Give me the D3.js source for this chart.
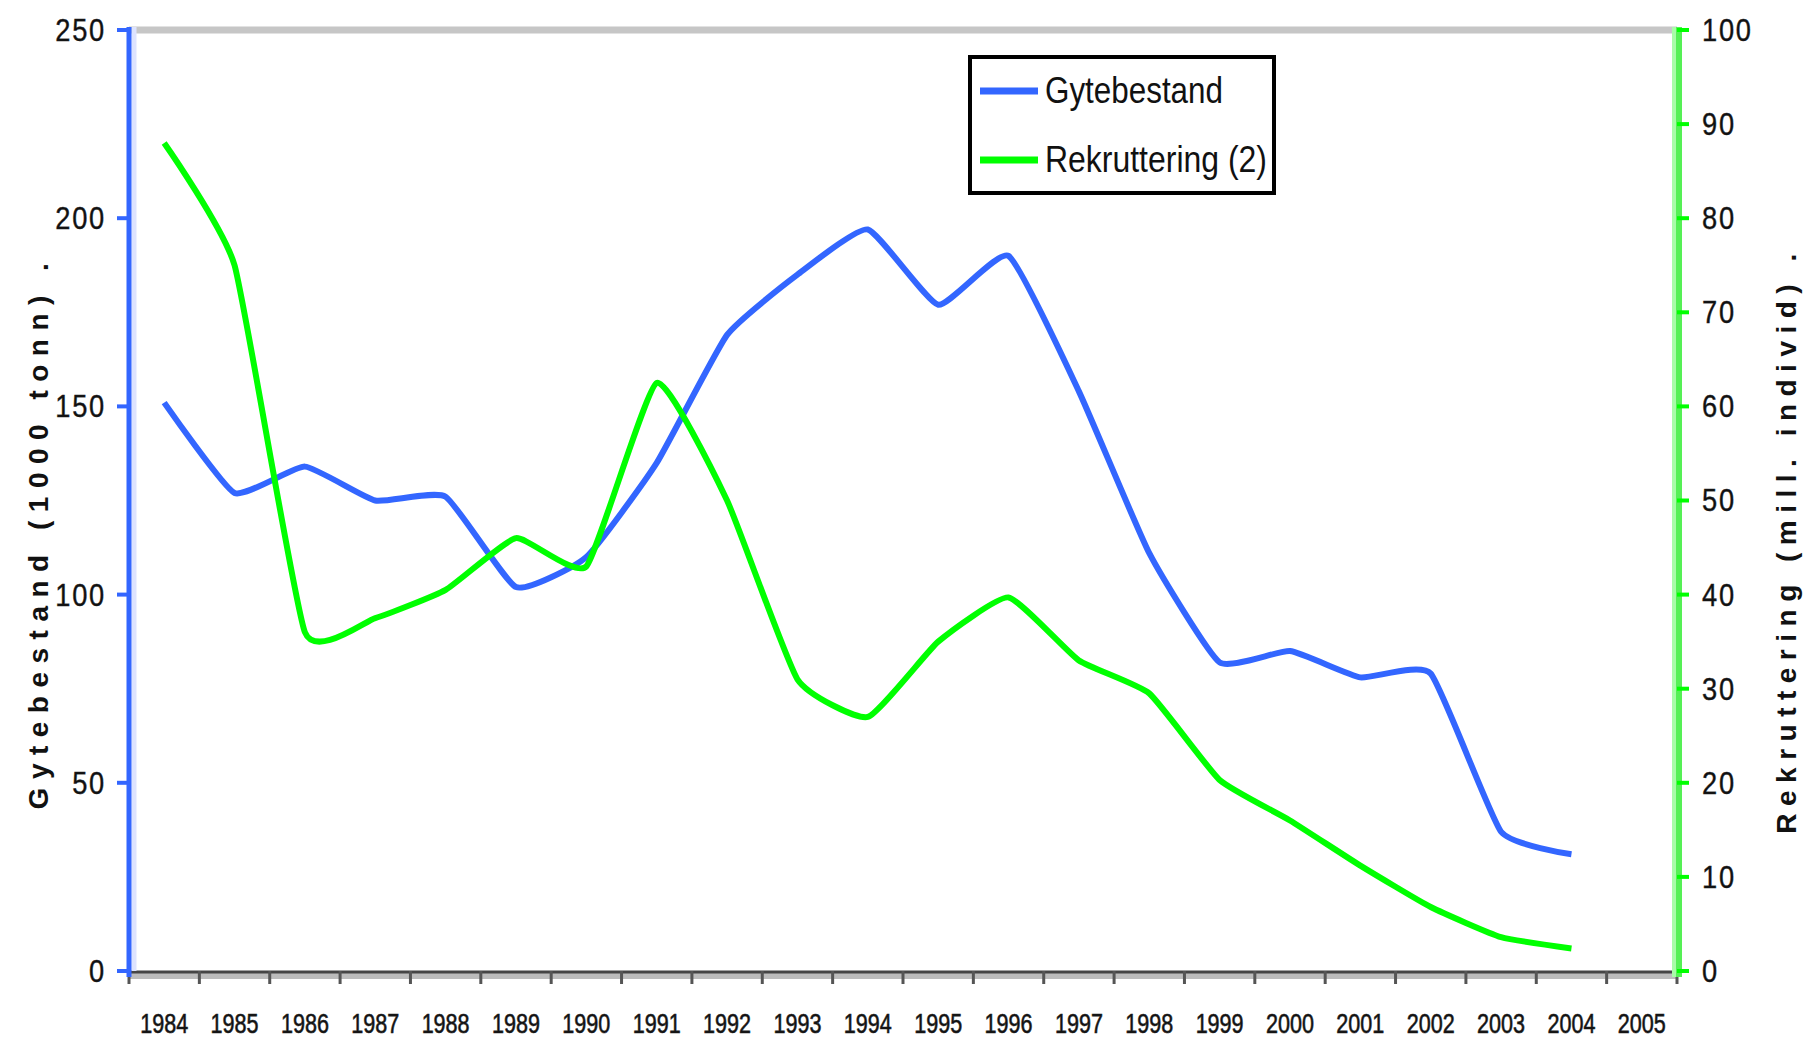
<!DOCTYPE html>
<html>
<head>
<meta charset="utf-8">
<script src="https://cdn.jsdelivr.net/npm/d3@7"></script>
<style>
  body { margin: 0; background: #fff; }
  svg { display: block; }
  text { font-family: "Liberation Sans Narrow", "Liberation Sans", Arial, sans-serif; fill: #111; }
</style>
</head>
<body>
<svg id="chart" width="1806" height="1038"></svg>
<script>
// values
const years = d3.range(1984, 2006).map(String);
const gytebestand = [151, 127, 134, 125, 126, 102, 110, 135, 169, 185, 197, 177, 190, 154, 111, 82, 85, 78, 79, 37, 31];
const rekruttering = [88, 75, 36, 37.5, 40.5, 46, 43, 62.5, 50, 31, 27, 35, 39.7, 33, 29.5, 20.3, 16, 11.2, 6.8, 3.6, 2.4];
const leftTicks = [0, 50, 100, 150, 200, 250];
const rightTicks = [0, 10, 20, 30, 40, 50, 60, 70, 80, 90, 100];
const seriesNames = ["Gytebestand", "Rekruttering (2)"];

const BLUE = "#3366ff";
const GREEN = "#00ff00";

const L = 129, R = 1677, T = 30, B = 971;
const svg = d3.select("#chart");

const x = d3.scaleBand().domain(years).range([L, R]);
const yLeft = d3.scaleLinear().domain([0, 250]).range([B, T]);
const yRight = d3.scaleLinear().domain([0, 100]).range([B, T]);

// top frame line
svg.append("line").attr("x1", L).attr("x2", R).attr("y1", T).attr("y2", T)
  .attr("stroke", "#c6c6c6").attr("stroke-width", 7);

// x axis: dark line with grey shadow, ticks on category borders
svg.append("line").attr("x1", L).attr("x2", R).attr("y1", B + 5).attr("y2", B + 5)
  .attr("stroke", "#bcbcbc").attr("stroke-width", 6);
svg.append("line").attr("x1", L).attr("x2", R).attr("y1", B + 1).attr("y2", B + 1)
  .attr("stroke", "#454545").attr("stroke-width", 3);
const borders = years.map(d => x(d)).concat([R]);
svg.selectAll("line.xtick").data(borders).enter().append("line")
  .attr("class", "xtick")
  .attr("x1", d => d).attr("x2", d => d)
  .attr("y1", B).attr("y2", B + 13)
  .attr("stroke", "#555").attr("stroke-width", 3);
svg.selectAll("text.xlab").data(years).enter().append("text")
  .attr("class", "xlab")
  .attr("x", d => x(d) + x.bandwidth() / 2 - 24)
  .attr("y", 1033)
  .attr("font-size", 27)
  .attr("textLength", 48)
  .attr("lengthAdjust", "spacingAndGlyphs")
  .attr("fill", "#222")
  .attr("stroke", "#222").attr("stroke-width", 0.6)
  .text(d => d);

// left axis (blue)
svg.append("line").attr("x1", L + 5).attr("x2", L + 5).attr("y1", T - 3).attr("y2", B)
  .attr("stroke", "#dde3ff").attr("stroke-width", 5);
svg.append("line").attr("x1", L).attr("x2", L).attr("y1", T - 3).attr("y2", B + 6)
  .attr("stroke", BLUE).attr("stroke-width", 5);
svg.selectAll("line.ltick").data(leftTicks).enter().append("line")
  .attr("class", "ltick")
  .attr("x1", L - 12).attr("x2", L)
  .attr("y1", d => yLeft(d)).attr("y2", d => yLeft(d))
  .attr("stroke", BLUE).attr("stroke-width", 4);
svg.selectAll("text.llab").data(leftTicks).enter().append("text")
  .attr("class", "llab")
  .attr("x", 106)
  .attr("y", d => yLeft(d) + 11)
  .attr("text-anchor", "end")
  .attr("font-size", 31)
  .attr("letter-spacing", 2)
  .attr("fill", "#222")
  .attr("stroke", "#222").attr("stroke-width", 0.4)
  .attr("transform", `translate(${106 * 0.12},0) scale(0.88,1)`)
  .text(d => d);

// right axis (green)
svg.append("line").attr("x1", R - 3).attr("x2", R - 3).attr("y1", T - 3).attr("y2", B + 6)
  .attr("stroke", "#a8fca8").attr("stroke-width", 4);
svg.append("line").attr("x1", R + 2).attr("x2", R + 2).attr("y1", T - 3).attr("y2", B + 6)
  .attr("stroke", "#55f055").attr("stroke-width", 6);
svg.selectAll("line.rtick").data(rightTicks).enter().append("line")
  .attr("class", "rtick")
  .attr("x1", R).attr("x2", R + 12)
  .attr("y1", d => yRight(d)).attr("y2", d => yRight(d))
  .attr("stroke", GREEN).attr("stroke-width", 4);
svg.selectAll("text.rlab").data(rightTicks).enter().append("text")
  .attr("class", "rlab")
  .attr("x", 1702)
  .attr("y", d => yRight(d) + 11)
  .attr("text-anchor", "start")
  .attr("font-size", 31)
  .attr("letter-spacing", 2)
  .attr("fill", "#222")
  .attr("stroke", "#222").attr("stroke-width", 0.4)
  .attr("transform", `translate(${1702 * 0.12},0) scale(0.88,1)`)
  .text(d => d);

// axis titles
svg.append("text")
  .attr("transform", "translate(48,532) rotate(-90)")
  .attr("text-anchor", "middle")
  .attr("font-family", "Liberation Sans, Arial, sans-serif")
  .attr("font-size", 28)
  .attr("font-weight", "bold")
  .attr("letter-spacing", 8.5)
  .attr("fill", "#333")
  .text("Gytebestand (1000 tonn) .");
svg.append("text")
  .attr("transform", "translate(1796,540) rotate(-90)")
  .attr("text-anchor", "middle")
  .attr("font-family", "Liberation Sans, Arial, sans-serif")
  .attr("font-size", 28)
  .attr("font-weight", "bold")
  .attr("letter-spacing", 7.5)
  .attr("fill", "#333")
  .text("Rekruttering (mill. individ) .");

// series lines
const curve = d3.curveCardinal.tension(0.55);
const lineLeft = d3.line()
  .x((d, i) => x(years[i]) + x.bandwidth() / 2)
  .y(d => yLeft(d))
  .curve(curve);
const lineRight = d3.line()
  .x((d, i) => x(years[i]) + x.bandwidth() / 2)
  .y(d => yRight(d))
  .curve(curve);

svg.append("path").datum(gytebestand)
  .attr("d", lineLeft)
  .attr("fill", "none").attr("stroke", BLUE).attr("stroke-width", 6)
  .attr("stroke-linejoin", "round");
svg.append("path").datum(rekruttering)
  .attr("d", lineRight)
  .attr("fill", "none").attr("stroke", GREEN).attr("stroke-width", 6)
  .attr("stroke-linejoin", "round");

// legend
const leg = svg.append("g").attr("transform", "translate(970,57)");
leg.append("rect").attr("x", 0).attr("y", 0).attr("width", 304).attr("height", 136)
  .attr("fill", "#fff").attr("stroke", "#000").attr("stroke-width", 4);
const legColors = [BLUE, GREEN];
const legWidths = [178, 222];
const items = leg.selectAll("g.item").data(seriesNames).enter().append("g")
  .attr("class", "item")
  .attr("transform", (d, i) => `translate(0,${34 + i * 69})`);
items.append("line")
  .attr("x1", 10).attr("x2", 68).attr("y1", 0).attr("y2", 0)
  .attr("stroke", (d, i) => legColors[i]).attr("stroke-width", 7);
items.append("text")
  .attr("x", 75).attr("y", 12)
  .attr("font-size", 36)
  .attr("textLength", (d, i) => legWidths[i])
  .attr("lengthAdjust", "spacingAndGlyphs")
  .attr("fill", "#222")
  .text(d => d);
</script>
</body>
</html>
